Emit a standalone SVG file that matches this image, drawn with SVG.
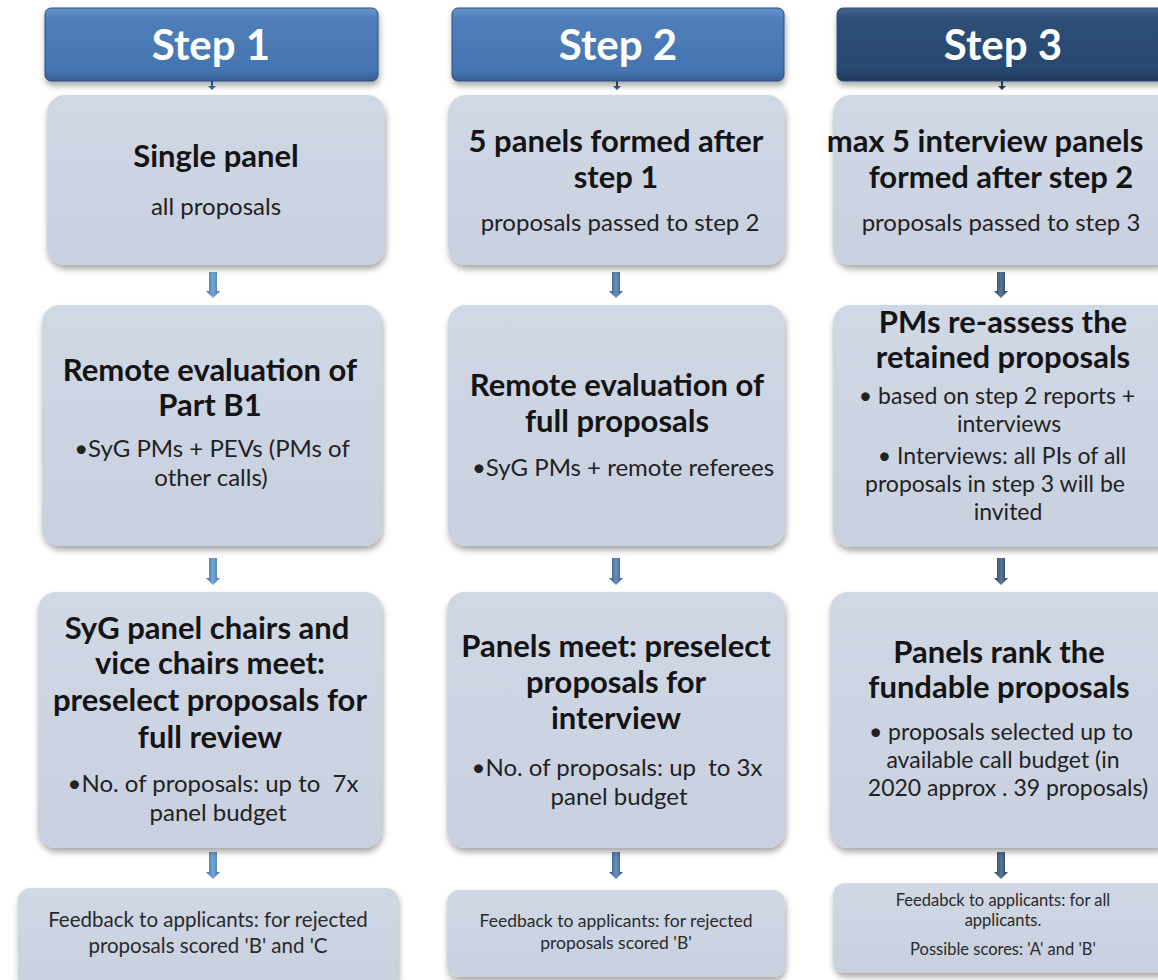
<svg xmlns="http://www.w3.org/2000/svg" width="1158" height="980" viewBox="0 0 1158 980">
<style>
.hdr{stroke:#2a4f7c;stroke-width:1}
.hdrtxt{font-family:Lato,"Liberation Sans",sans-serif;font-weight:bold;font-size:42px;fill:#ffffff;text-anchor:middle}
.box{fill:url(#boxg)}
.t{font-family:Lato,"Liberation Sans",sans-serif;font-weight:bold;font-size:31px;fill:#141414;text-anchor:middle}
.s{font-family:Lato,"Liberation Sans",sans-serif;font-size:24px;fill:#222222;text-anchor:middle}
.s3{font-family:Lato,"Liberation Sans",sans-serif;font-size:23px;fill:#222222;text-anchor:middle}
.f{font-family:Lato,"Liberation Sans",sans-serif;font-size:20.5px;fill:#2a2a2a;text-anchor:middle}
.f2{font-family:Lato,"Liberation Sans",sans-serif;font-size:17.5px;fill:#2a2a2a;text-anchor:middle}
.f3{font-family:Lato,"Liberation Sans",sans-serif;font-size:16.5px;fill:#2a2a2a;text-anchor:middle}
</style>
<defs>
<linearGradient id="g12" x1="0" y1="0" x2="0" y2="1">
<stop offset="0" stop-color="#6793cc"/><stop offset="0.15" stop-color="#4f7fba"/><stop offset="0.85" stop-color="#4575b0"/><stop offset="1" stop-color="#345f94"/>
</linearGradient>
<linearGradient id="g3" x1="0" y1="0" x2="0" y2="1">
<stop offset="0" stop-color="#42648d"/><stop offset="0.15" stop-color="#2e4f77"/><stop offset="0.85" stop-color="#284870"/><stop offset="1" stop-color="#1c3656"/>
</linearGradient>
<linearGradient id="boxg" x1="0" y1="0" x2="0" y2="1">
<stop offset="0" stop-color="#d0d7e5"/><stop offset="1" stop-color="#c9d1e0"/>
</linearGradient>
<linearGradient id="a1" x1="0" y1="0" x2="1" y2="0">
<stop offset="0" stop-color="#3d6ea8"/><stop offset="0.5" stop-color="#7aa6da"/><stop offset="1" stop-color="#3d6ea8"/>
</linearGradient>
<linearGradient id="a2" x1="0" y1="0" x2="1" y2="0">
<stop offset="0" stop-color="#2f5686"/><stop offset="0.5" stop-color="#6a8fbd"/><stop offset="1" stop-color="#2f5686"/>
</linearGradient>
<linearGradient id="a3" x1="0" y1="0" x2="1" y2="0">
<stop offset="0" stop-color="#243f60"/><stop offset="0.5" stop-color="#5a7596"/><stop offset="1" stop-color="#243f60"/>
</linearGradient>
<filter id="sh" x="-10%" y="-10%" width="120%" height="130%">
<feGaussianBlur in="SourceAlpha" stdDeviation="3"/>
<feOffset dx="1" dy="4" result="o"/>
<feComponentTransfer><feFuncA type="linear" slope="0.35"/></feComponentTransfer>
<feMerge><feMergeNode/><feMergeNode in="SourceGraphic"/></feMerge>
</filter>
</defs>
<rect width="1158" height="980" fill="#ffffff"/>

<g id="connectors">
<path d="M211,81 L211,86 L208,86 L212,90 L216,86 L213,86 L213,81 Z" fill="#3d6ea8"/>
<path d="M616,81 L616,86 L613,86 L617,90 L621,86 L618,86 L618,81 Z" fill="#2f5686"/>
<path d="M1001,81 L1001,86 L998,86 L1002,90 L1006,86 L1003,86 L1003,81 Z" fill="#243f60"/>
<path d="M209,272 L217,272 L217,291 L220,291 L213,298 L206,291 L209,291 Z" fill="url(#a1)"/>
<path d="M209,558 L217,558 L217,578 L220,578 L213,585 L206,578 L209,578 Z" fill="url(#a1)"/>
<path d="M209,852 L217,852 L217,872 L220,872 L213,879 L206,872 L209,872 Z" fill="url(#a1)"/>
<path d="M612,272 L620,272 L620,291 L623,291 L616,298 L609,291 L612,291 Z" fill="url(#a2)"/>
<path d="M612,558 L620,558 L620,578 L623,578 L616,585 L609,578 L612,578 Z" fill="url(#a2)"/>
<path d="M612,852 L620,852 L620,872 L623,872 L616,879 L609,872 L612,872 Z" fill="url(#a2)"/>
<path d="M997,272 L1005,272 L1005,291 L1008,291 L1001,298 L994,291 L997,291 Z" fill="url(#a3)"/>
<path d="M997,558 L1005,558 L1005,578 L1008,578 L1001,585 L994,578 L997,578 Z" fill="url(#a3)"/>
<path d="M997,852 L1005,852 L1005,872 L1008,872 L1001,879 L994,872 L997,872 Z" fill="url(#a3)"/>
</g>

<g id="step1">
<rect x="45" y="8" width="333" height="73" rx="6" fill="url(#g12)" class="hdr" filter="url(#sh)"/>
<text class="hdrtxt" x="211" y="60">Step 1</text>
</g>
<g id="step2">
<rect x="452" y="8" width="332" height="73" rx="6" fill="url(#g12)" class="hdr" filter="url(#sh)"/>
<text class="hdrtxt" x="618" y="60">Step 2</text>
</g>
<g id="step3">
<rect x="837" y="8" width="335" height="73" rx="6" fill="url(#g3)" class="hdr" filter="url(#sh)"/>
<text class="hdrtxt" x="1003" y="60">Step 3</text>
</g>

<g id="s1-panel">
<rect x="47" y="95" width="338" height="170" rx="18" class="box" filter="url(#sh)"/>
<text class="t" x="216" y="167">Single panel</text>
<text class="s" x="216" y="215">all proposals</text>
</g>
<g id="s1-remote">
<rect x="42" y="305" width="340" height="241" rx="18" class="box" filter="url(#sh)"/>
<text class="t" x="210" y="381">Remote evaluation of</text>
<text class="t" x="210" y="416">Part B1</text>
<text class="s" x="212" y="457">•SyG PMs + PEVs (PMs of</text>
<text class="s" x="211" y="486">other calls)</text>
</g>
<g id="s1-meet">
<rect x="38" y="592" width="344" height="256" rx="18" class="box" filter="url(#sh)"/>
<text class="t" x="207" y="639">SyG panel chairs and</text>
<text class="t" x="210" y="674">vice chairs meet:</text>
<text class="t" x="210" y="711">preselect proposals for</text>
<text class="t" x="210" y="748">full review</text>
<text class="s" x="213" y="792" xml:space="preserve">•No. of proposals: up to  7x</text>
<text class="s" x="218" y="821">panel budget</text>
</g>
<g id="s1-feedback">
<rect x="18" y="888" width="380" height="100" rx="12" class="box" filter="url(#sh)"/>
<text class="f" x="208" y="927">Feedback to applicants: for rejected</text>
<text class="f" x="208" y="953">proposals scored 'B' and 'C</text>
</g>

<g id="s2-panels">
<rect x="448" y="95" width="337" height="170" rx="18" class="box" filter="url(#sh)"/>
<text class="t" x="616" y="152">5 panels formed after</text>
<text class="t" x="616" y="188">step 1</text>
<text class="s" x="620" y="231">proposals passed to step 2</text>
</g>
<g id="s2-remote">
<rect x="448" y="305" width="337" height="241" rx="18" class="box" filter="url(#sh)"/>
<text class="t" x="617" y="396">Remote evaluation of</text>
<text class="t" x="617" y="432">full proposals</text>
<text class="s" x="623" y="476">•SyG PMs + remote referees</text>
</g>
<g id="s2-meet">
<rect x="447" y="592" width="338" height="256" rx="18" class="box" filter="url(#sh)"/>
<text class="t" x="616" y="657">Panels meet: preselect</text>
<text class="t" x="616" y="693">proposals for</text>
<text class="t" x="616" y="729">interview</text>
<text class="s" x="617" y="776" xml:space="preserve">•No. of proposals: up  to 3x</text>
<text class="s" x="619" y="805">panel budget</text>
</g>
<g id="s2-feedback">
<rect x="447" y="890" width="338" height="87" rx="12" class="box" filter="url(#sh)"/>
<text class="f2" x="616" y="927">Feedback to applicants: for rejected</text>
<text class="f2" x="616" y="949">proposals scored 'B'</text>
</g>

<g id="s3-panels">
<rect x="833" y="95" width="340" height="170" rx="18" class="box" filter="url(#sh)"/>
<text class="t" x="985" y="152">max 5 interview panels</text>
<text class="t" x="1001" y="188">formed after step 2</text>
<text class="s" x="1001" y="231">proposals passed to step 3</text>
</g>
<g id="s3-reassess">
<rect x="833" y="305" width="340" height="242" rx="18" class="box" filter="url(#sh)"/>
<text class="t" x="1003" y="333">PMs re-assess the</text>
<text class="t" x="1003" y="368">retained proposals</text>
<text class="s3" x="997" y="404">• based on step 2 reports +</text>
<text class="s3" x="1009" y="432">interviews</text>
<text class="s3" x="1002" y="464">• Interviews: all PIs of all</text>
<text class="s3" x="995" y="492">proposals in step 3 will be</text>
<text class="s3" x="1008" y="520">invited</text>
</g>
<g id="s3-rank">
<rect x="830" y="592" width="343" height="256" rx="18" class="box" filter="url(#sh)"/>
<text class="t" x="999" y="663">Panels rank the</text>
<text class="t" x="999" y="698">fundable proposals</text>
<text class="s3" x="1001" y="740">• proposals selected up to</text>
<text class="s3" x="1003" y="768">available call budget (in</text>
<text class="s3" x="1008" y="796">2020 approx . 39 proposals)</text>
</g>
<g id="s3-feedback">
<rect x="833" y="883" width="340" height="90" rx="12" class="box" filter="url(#sh)"/>
<text class="f3" x="1003" y="906">Feedabck to applicants: for all</text>
<text class="f3" x="1003" y="926">applicants.</text>
<text class="f3" x="1003" y="955">Possible scores: 'A' and 'B'</text>
</g>
</svg>
